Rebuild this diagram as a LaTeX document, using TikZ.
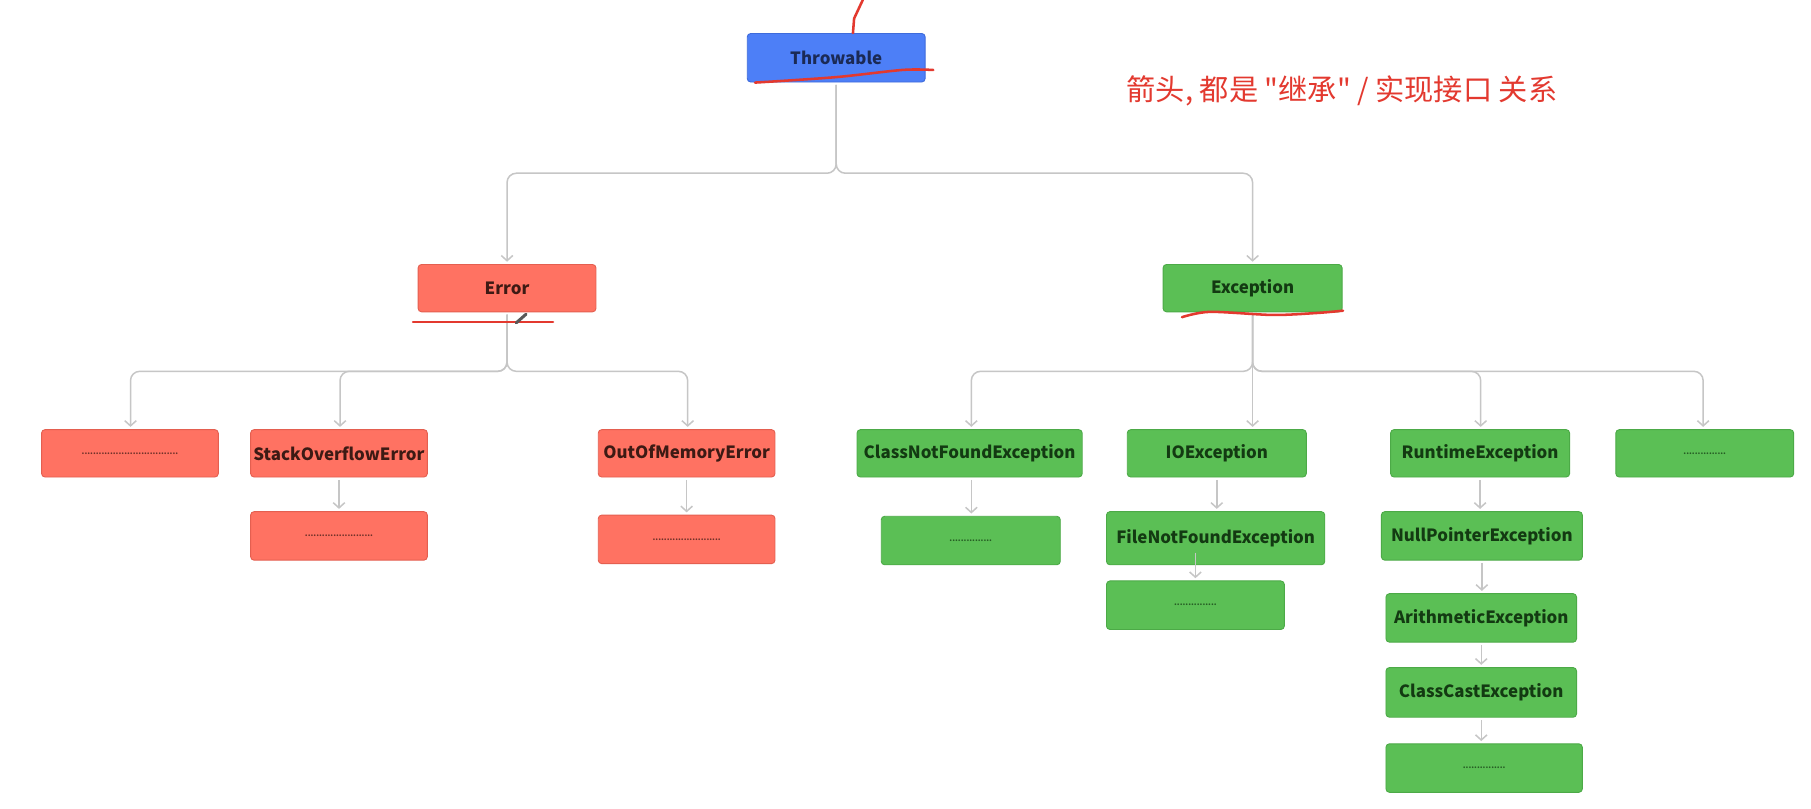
\documentclass[tikz,border=0pt]{standalone}
\usepackage{fontspec}
\setmainfont{Noto Sans CJK SC}
\newfontfamily\notefont{Noto Sans CJK SC}[Ligatures=TeXOff]
\usetikzlibrary{arrows.meta}
\definecolor{tfill}{HTML}{4D7FF7}
\definecolor{tdraw}{HTML}{3E6BDB}
\definecolor{ttext}{HTML}{1B2A55}
\definecolor{efill}{HTML}{FF7262}
\definecolor{edraw}{HTML}{E45F50}
\definecolor{etext}{HTML}{3D1A14}
\definecolor{gfill}{HTML}{5BBF55}
\definecolor{gdraw}{HTML}{4CAA47}
\definecolor{gtext}{HTML}{133A12}
\definecolor{linegrey}{HTML}{C6C6C6}
\definecolor{annot}{HTML}{E3392F}
\newcommand{\dotrow}[1]{{\fontsize{7}{7}\selectfont #1}}
\begin{document}
\begin{tikzpicture}[x=1pt,y=-1pt,
  box/.style={rounded corners=3pt, minimum height=41pt, minimum width=154pt, inner sep=0pt,
    font=\fontsize{14.6}{18}\selectfont\bfseries, line width=0.8pt},
  bluebox/.style={box, fill=tfill, draw=tdraw, text=ttext},
  redbox/.style={box, fill=efill, draw=edraw, text=etext},
  greenbox/.style={box, fill=gfill, draw=gdraw, text=gtext},
  reddots/.style={redbox, text=etext!75!efill},
  greendots/.style={greenbox, text=gtext!75!gfill},
  arr/.style={draw=linegrey, line width=1.3pt, -{Straight Barb[length=4.5pt,width=10pt]},
    shorten >=2pt, shorten <=2pt},
  fork/.style={arr, rounded corners=8pt},
  redmark/.style={draw=annot, line width=2.2pt, line cap=round, line join=round}
]
\useasboundingbox (0,0) rectangle (1568,700.45);
\fill[white] (0,0) rectangle (1568,700.45);

% top level
\node[bluebox] (T) at (724,50) [minimum height=42pt] {Throwable};
\node[redbox] (Err) at (439,249.5) {Error};
\node[greenbox, minimum width=155pt] (Exc) at (1084.5,249.5) {Exception};

% Error children
\node[reddots, minimum width=153pt] (e1) at (112.5,392.5) {\dotrow{..................................}};
\node[redbox, minimum width=153pt] (SOE) at (293.5,392.5) {StackOverflowError};
\node[redbox, minimum width=153pt] (OOM) at (594.5,392.5) {OutOfMemoryError};
\node[reddots, minimum width=153pt, minimum height=42pt] (e2) at (293.5,464) {\dotrow{........................}};
\node[reddots, minimum width=153pt, minimum height=42pt] (e3) at (594.5,467) {\dotrow{........................}};

% Exception children
\node[greenbox, minimum width=195pt] (CNF) at (839.5,392.5) {ClassNotFoundException};
\node[greenbox, minimum width=155pt] (IO) at (1053.5,392.5) {IOException};
\node[greenbox, minimum width=155pt] (RT) at (1281.5,392.5) {RuntimeException};
\node[greendots] (e4) at (1476,392.5) {\dotrow{...............}};
\node[greendots, minimum width=155pt, minimum height=42pt] (e5) at (840.5,468) {\dotrow{...............}};
\node[greenbox, minimum width=189pt, minimum height=46pt] (FNF) at (1052.5,466) {FileNotFoundException};
\node[greendots, minimum height=42pt] (e6) at (1035,524) {\dotrow{...............}};
\node[greenbox, minimum width=174pt, minimum height=42pt] (NPE) at (1283,464) {NullPointerException};
\node[greenbox, minimum width=165pt, minimum height=42pt] (AE) at (1282.5,535) {ArithmeticException};
\node[greenbox, minimum width=165pt, minimum height=43pt] (CCE) at (1282.5,599.5) {ClassCastException};
\node[greendots, minimum width=170pt, minimum height=42pt] (e7) at (1285,665) {\dotrow{...............}};

% fork points
\coordinate (tf) at (724,150);
\coordinate (ef) at (439,321.5);
\coordinate (xf) at (1084.5,321.5);

% connectors
\draw[fork] (T.south) -- (tf) -| (Err.north);
\draw[fork] (T.south) -- (tf) -| (Exc.north);

\draw[fork] (Err.south) -- (ef) -| ([xshift=0.5pt]e1.north);
\draw[fork] (Err.south) -- (ef) -| ([xshift=0.9pt]SOE.north);
\draw[fork] (Err.south) -- (ef) -| ([xshift=0.9pt]OOM.north);

\draw[fork] (Exc.south) -- (xf) -| ([xshift=1.5pt]CNF.north);
\draw[arr] (Exc.south) -- (Exc.south |- IO.north);
\draw[fork] (Exc.south) -- (xf) -| ([xshift=0.5pt]RT.north);
\draw[fork] (Exc.south) -- (xf) -| ([xshift=-1.4pt]e4.north);

\draw[arr] (SOE.south) -- (SOE.south |- e2.north);
\draw[arr] (OOM.south) -- (OOM.south |- e3.north);
\draw[arr] ([xshift=1.5pt]CNF.south) -- ([xshift=1.5pt]CNF.south |- e5.north);
\draw[arr] (IO.south) -- (IO.south |- FNF.north);
\draw[arr] ([yshift=13pt]e6.north |- FNF.south) -- (e6.north);
\draw[arr] (RT.south) -- (RT.south |- NPE.north);
\draw[arr] (NPE.south) -- (NPE.south |- AE.north);
\draw[arr] (AE.south) -- (AE.south |- CCE.north);
\draw[arr] (CCE.south) -- (CCE.south |- e7.north);

% note
\node[font=\notefont\fontsize{25.3}{30}\selectfont, text=annot] (note) at (1162,79) {箭头, 都是 "继承" / 实现接口 关系};

% hand-drawn red marks
\draw[redmark] (738.5,28.6) -- (739.5,16) -- (747,0);
\draw[redmark] plot[smooth] coordinates {(653.7,71.5) (678,70) (727,66.5) (782,60.5) (808,60.6)};
\draw[redmark] (357.6,278.9) -- (478.8,278.9);
\draw[redmark] plot[smooth] coordinates {(1023.4,274.6) (1047.6,270) (1102,272.7) (1140,271) (1162.8,269)};
% pen cursor
\draw[draw=black!65, line width=2.6pt, line cap=round] (447,279.5) -- (455.5,272);
\end{tikzpicture}
\end{document}
